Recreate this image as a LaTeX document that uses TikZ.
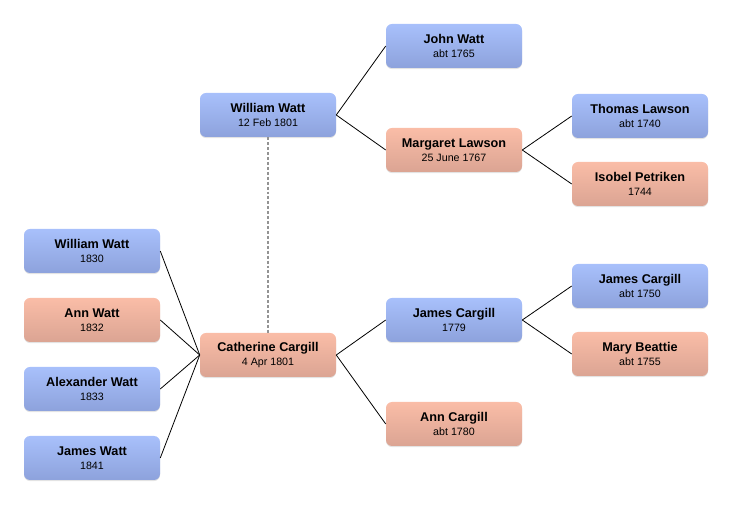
\documentclass[tikz,border=0pt]{standalone}
\usepackage{fontspec}
\setmainfont{Liberation Sans}
\usepackage{tikz}
\usetikzlibrary{shadows}
\usepackage{xcolor}
\definecolor{mtop}{HTML}{A8C0FB}
\definecolor{mbot}{HTML}{8DA2DC}
\definecolor{ftop}{HTML}{FABDA7}
\definecolor{fbot}{HTML}{DBA493}
\newcommand{\datefont}{\fontsize{8}{10.5}\selectfont}

\begin{document}
\begin{tikzpicture}[x=0.75pt,y=-0.75pt,
    person/.style={rounded corners=4.5pt, minimum width=102pt, minimum height=33pt,
      align=center, inner sep=0pt, font=\fontsize{9.5}{10.5}\selectfont,
      drop shadow={shadow xshift=0pt, shadow yshift=-0.8pt, opacity=0.22}},
    male/.style={person, top color=mtop, bottom color=mbot},
    female/.style={person, top color=ftop, bottom color=fbot},
    link/.style={line width=0.6pt},
    spouse/.style={line width=1.1pt, color=gray!85, dash pattern=on 2.2pt off 1.5pt}]
                  \useasboundingbox (0,0) rectangle (732,505);
                  \node[male] (ww1801) at (268,115) {\textbf{William Watt}\\{\datefont 12 Feb 1801}};
                  \node[male] (jw1765) at (454,46) {\textbf{John Watt}\\{\datefont abt 1765}};
                  \node[female] (ml1767) at (454,150) {\textbf{Margaret Lawson}\\{\datefont 25 June 1767}};
                  \node[male] (tl1740) at (640,116) {\textbf{Thomas Lawson}\\{\datefont abt 1740}};
                  \node[female] (ip1744) at (640,184) {\textbf{Isobel Petriken}\\{\datefont 1744}};
                  \node[female] (cc1801) at (268,355) {\textbf{Catherine Cargill}\\{\datefont 4 Apr 1801}};
                  \node[male] (jc1779) at (454,320) {\textbf{James Cargill}\\{\datefont 1779}};
                  \node[female] (ac1780) at (454,424) {\textbf{Ann Cargill}\\{\datefont abt 1780}};
                  \node[male] (jc1750) at (640,286) {\textbf{James Cargill}\\{\datefont abt 1750}};
                  \node[female] (mb1755) at (640,354) {\textbf{Mary Beattie}\\{\datefont abt 1755}};
                  \node[male] (ww1830) at (92,251) {\textbf{William Watt}\\{\datefont 1830}};
                  \node[female] (aw1832) at (92,320) {\textbf{Ann Watt}\\{\datefont 1832}};
                  \node[male] (xw1833) at (92,389) {\textbf{Alexander Watt}\\{\datefont 1833}};
                  \node[male] (jw1841) at (92,458) {\textbf{James Watt}\\{\datefont 1841}};
                  % parents
                  \draw[link] (ww1801.east) -- (jw1765.west);
                  \draw[link] (ww1801.east) -- (ml1767.west);
                  \draw[link] (ml1767.east) -- (tl1740.west);
                  \draw[link] (ml1767.east) -- (ip1744.west);
                  \draw[link] (cc1801.east) -- (jc1779.west);
                  \draw[link] (cc1801.east) -- (ac1780.west);
                  \draw[link] (jc1779.east) -- (jc1750.west);
                  \draw[link] (jc1779.east) -- (mb1755.west);
                  % children
                  \draw[link] (ww1830.east) -- (cc1801.west);
                  \draw[link] (aw1832.east) -- (cc1801.west);
                  \draw[link] (xw1833.east) -- (cc1801.west);
                  \draw[link] (jw1841.east) -- (cc1801.west);
                  \draw[spouse] (ww1801.south) -- (cc1801.north);
                \end{tikzpicture}
\end{document}
